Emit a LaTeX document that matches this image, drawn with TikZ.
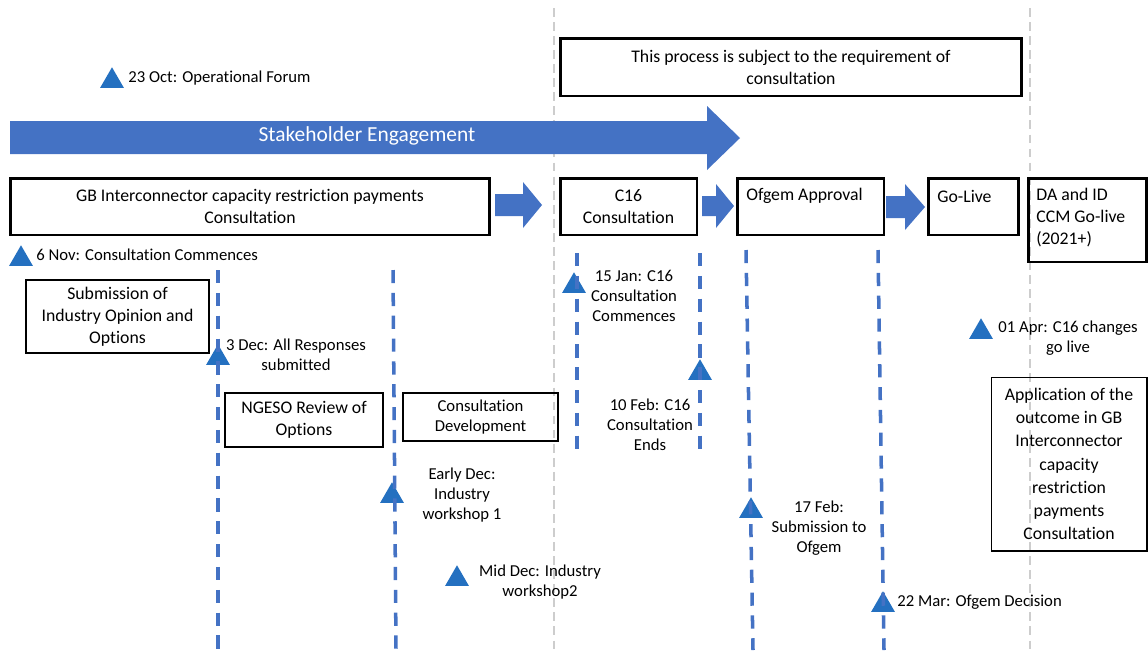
\documentclass[tikz,border=0pt]{standalone}
\usepackage{fontspec}
\setmainfont{Carlito}[Ligatures=NoCommon]
\usetikzlibrary{shapes.geometric}
\definecolor{arrowblue}{RGB}{68,114,196}
\definecolor{triblue}{RGB}{36,112,192}
\definecolor{guidegray}{RGB}{205,205,205}
\begin{document}
\begin{tikzpicture}[x=0.02cm,y=-0.02cm,
  thickbox/.style={draw=black,line width=1.7pt,inner sep=0pt},
  thinbox/.style={draw=black,line width=0.6pt,inner sep=0pt},
  lbl/.style={font=\fontsize{9.5}{11.4}\selectfont,inner sep=0pt,align=center},
  boxtxt/.style={font=\fontsize{10.1}{12.6}\selectfont,align=center},
  tri/.style={regular polygon,regular polygon sides=3,fill=triblue,minimum size=0.55cm,inner sep=0pt},
  timeline/.style={draw=arrowblue,line width=2pt,dash pattern=on 7.5pt off 5.5pt},
  guide/.style={draw=guidegray,line width=0.6pt,dash pattern=on 5pt off 3pt},
  blockarrow/.style={fill=arrowblue}
]
\useasboundingbox (0,0) rectangle (1148,650);

% guide lines
\draw[guide] (554,8) -- (554,650);
\draw[guide] (1030,8) -- (1030,650);

% top box
\node[thickbox,boxtxt,minimum width=9.24cm,minimum height=1.16cm] (req) at (791,67)
  {This process is subject to the requirement of\\consultation};

% operational forum
\node[tri] (t1) at (112,81) {};
\node[lbl,anchor=west] (l1) at (128,78) {23 Oct: Operational Forum};

% stakeholder engagement arrow
\fill[blockarrow] (10,121) -- (707,121) -- (707,106) -- (740,138) -- (707,170) -- (707,154) -- (10,154) -- cycle;
\node[font=\fontsize{12.2}{14}\selectfont,text=white] (se) at (367,136) {Stakeholder Engagement};

% process boxes
\node[thickbox,boxtxt,minimum width=9.6cm,minimum height=1.14cm] (gb) at (250,206.5)
  {GB Interconnector capacity restriction payments\\Consultation};
\node[thickbox,boxtxt,minimum width=2.74cm,minimum height=1.14cm] (c16) at (628.5,206.5)
  {C16\\Consultation};
\node[thickbox,minimum width=2.94cm,minimum height=1.14cm] (ofg) at (810.5,206.5) {};
\node[boxtxt,anchor=west,inner sep=0pt] (ofgt) at (746,196) {Ofgem Approval};
\node[thickbox,minimum width=1.8cm,minimum height=1.14cm] (gl) at (973,206.5) {};
\node[boxtxt,anchor=west,inner sep=0pt] (glt) at (937,196) {Go-Live};
\node[thickbox,minimum width=2.36cm,minimum height=1.68cm] (da) at (1087,220) {};
\node[boxtxt,anchor=north west,align=left,inner sep=0pt] (dat) at (1036,188) {DA and ID\\CCM Go-live\\(2021+)};

% block arrows between boxes
\fill[blockarrow] (495,194) -- (523,194) -- (523,182) -- (542,205) -- (523,228) -- (523,216) -- (495,216) -- cycle;
\fill[blockarrow] (702,196) -- (716,196) -- (716,184) -- (734,206) -- (716,228) -- (716,216) -- (702,216) -- cycle;
\fill[blockarrow] (886,196) -- (905,196) -- (905,184) -- (925,207) -- (905,230) -- (905,218) -- (886,218) -- cycle;

% lower boxes
\node[thinbox,boxtxt,minimum width=3.66cm,minimum height=1.46cm] (sub) at (117.5,316.5)
  {Submission of\\Industry Opinion and\\Options};
\node[thinbox,boxtxt,minimum width=3.16cm,minimum height=1.08cm] (ngeso) at (304,420)
  {NGESO Review of\\Options};
\node[thinbox,font=\fontsize{9.5}{11.4}\selectfont,align=center,minimum width=3.1cm,minimum height=0.96cm] (cdev) at (480.5,417)
  {Consultation\\Development};
\node[thinbox,font=\fontsize{10.1}{13.2}\selectfont,align=center,minimum width=3.12cm,minimum height=3.48cm] (app) at (1069,464)
  {Application of the\\outcome in GB\\Interconnector\\capacity\\restriction\\payments\\Consultation};

% milestone triangles
\node[tri] (t2) at (21,259) {};
\node[tri] (t3) at (218,358) {};
\node[tri] (t4) at (392,496) {};
\node[tri] (t5) at (457,579) {};
\node[tri] (t6) at (574,286) {};
\node[tri] (t7) at (700,373) {};
\node[tri] (t8) at (751,511) {};
\node[tri] (t9) at (883,605) {};
\node[tri] (t10) at (981,332) {};

% timeline dashed lines
\draw[timeline] (218,270) -- (218,650);
\draw[timeline] (393,270) -- (396,650);
\draw[timeline] (577,253) -- (577,457);
\draw[timeline] (700,253) -- (700,457);
\draw[timeline] (746,250) -- (753,650);
\draw[timeline] (878,250) -- (884,650);

% milestone labels
\node[lbl,anchor=west] (l2) at (36,255) {6 Nov: Consultation Commences};
\node[lbl] (l3) at (296,355) {3 Dec: All Responses\\submitted};
\node[lbl] (l4) at (462,495) {Early Dec:\\Industry\\workshop 1};
\node[lbl] (l5) at (540,582) {Mid Dec: Industry\\workshop2};
\node[lbl] (l6) at (634,296) {15 Jan: C16\\Consultation\\Commences};
\node[lbl] (l7) at (650,425) {10 Feb: C16\\Consultation\\Ends};
\node[lbl] (l8) at (819,528) {17 Feb:\\Submission to\\Ofgem};
\node[lbl,anchor=west] (l9) at (897,602) {22 Mar: Ofgem Decision};
\node[lbl] (l10) at (1068,338) {01 Apr: C16 changes\\go live};
\end{tikzpicture}
\end{document}
